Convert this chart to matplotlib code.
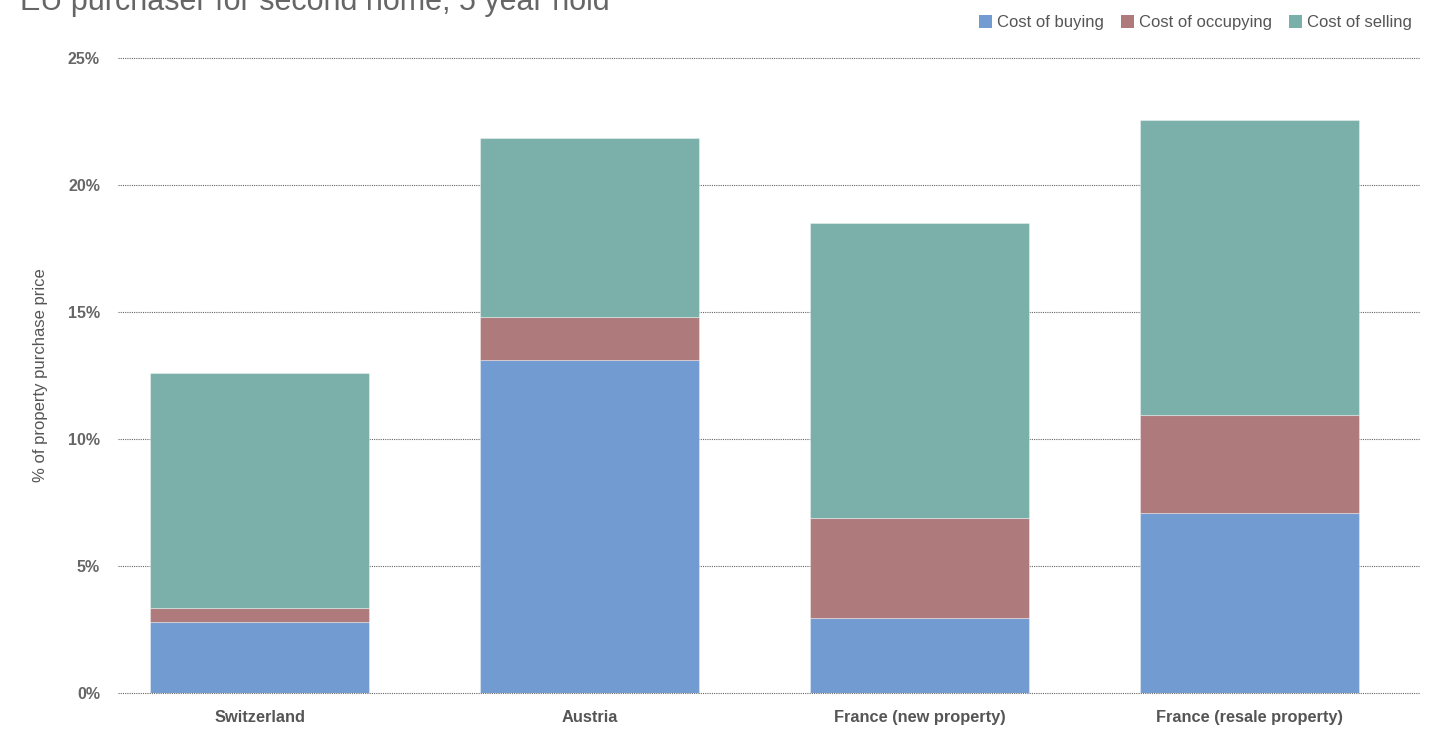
import matplotlib
matplotlib.use("Agg")
import matplotlib.pyplot as plt
import numpy as np
from matplotlib.patches import Patch

categories = ["Switzerland", "Austria", "France (new property)", "France (resale property)"]
cost_buying = [2.8, 13.1, 2.95, 7.1]
cost_occupying = [0.55, 1.7, 3.95, 3.85]
cost_selling = [9.25, 7.05, 11.6, 11.6]
series_names = ["Cost of buying", "Cost of occupying", "Cost of selling"]
colors = ["#729BD1", "#AE7A7C", "#7AB0A9"]
yticks = [0, 5, 10, 15, 20, 25]

plt.rcParams['font.family'] = ['Liberation Sans', 'DejaVu Sans']

fig = plt.figure(figsize=(14.55, 7.34), dpi=100)
ax = fig.add_axes([118/1455, 1-693/734, (1420-118)/1455, (693-58)/734])

x = np.arange(len(categories))
w = 0.664
bottom = np.zeros(len(categories))
for vals, c in zip([cost_buying, cost_occupying, cost_selling], colors):
    ax.bar(x, vals, w, bottom=bottom, color=c, edgecolor=(1, 1, 1, 0.35), linewidth=0.8, zorder=3)
    bottom += np.array(vals)

ax.set_xlim(-0.429, 3.517)
ax.set_ylim(0, 25)
ax.set_yticks(yticks)
ax.set_yticklabels([f"{t}%" for t in yticks], fontsize=11.5, fontweight='bold', color='#666666')
ax.set_xticks(x)
ax.set_xticklabels(categories, fontsize=11.8, fontweight='bold', color='#555555')
ax.tick_params(axis='y', length=0, pad=20)
ax.tick_params(axis='x', length=0, pad=12)
ax.yaxis.set_tick_params(pad=13)
ax.grid(axis='y', linestyle=(0, (1, 1)), color='#666666', linewidth=0.8, zorder=0)
for gl in ax.get_ygridlines():
    gl.set_clip_on(False)
for s in ax.spines.values():
    s.set_visible(False)
ax.set_ylabel("% of property purchase price", fontsize=12, color='#555555', labelpad=14)

fig.text(20/1455, 1-10/734, "EU purchaser for second home, 5 year hold", fontsize=22,
         color='#666666', va='baseline', ha='left')

handles = [Patch(facecolor=c, edgecolor='none') for c in colors]
fig.legend(handles, series_names, loc='upper right', bbox_to_anchor=(1427/1455, 1.0),
           ncol=3, frameon=False, fontsize=12, handlelength=0.8, handleheight=0.8,
           handletextpad=0.3, columnspacing=1.0, labelcolor='#555555')

fig.savefig("out.png", dpi=100)
